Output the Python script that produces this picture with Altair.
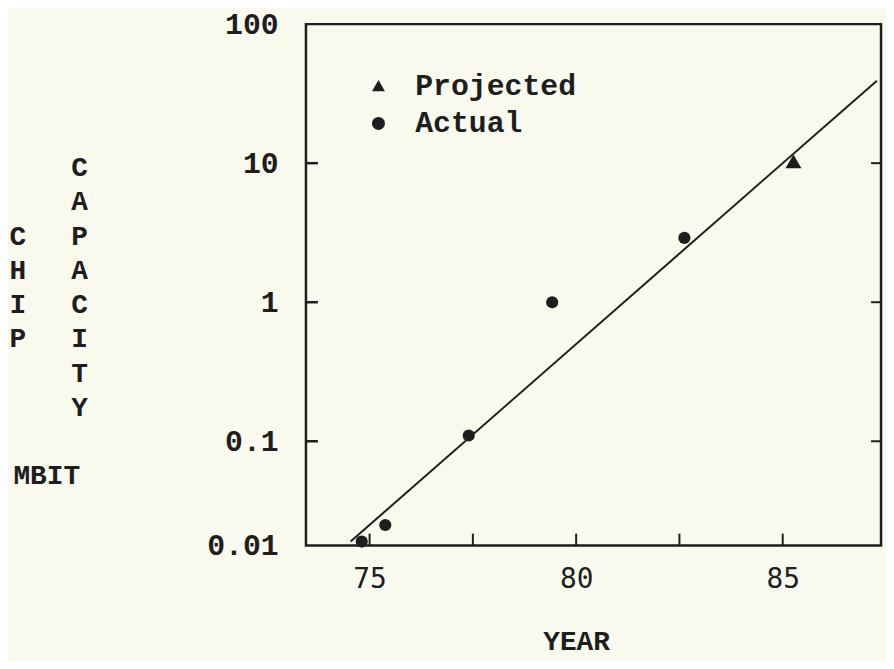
import altair as alt
import pandas as pd

# ---- data ----
ACTUAL_YEAR = [74.81, 75.38, 77.40, 79.42, 82.62]
ACTUAL_MBIT = [0.019, 0.025, 0.11, 1.0, 2.9]
PROJ_YEAR = [85.26]
PROJ_MBIT = [10.3]
TREND_YEAR = [74.54, 87.28]
TREND_MBIT = [0.019, 39.2]
SERIES = ["Projected", "Actual"]
X_LABEL_VALUES = [75, 80, 85]
X_TICK_VALUES = [75, 77.5, 80, 82.5, 85]
Y_TICK_VALUES = [0.01778, 0.1, 1, 10, 100]
Y_TICK_LABELS = ["0.01", "0.1", "1", "10", "100"]
Y_INNER_TICKS = [0.1, 1, 10]
X_DOMAIN = [73.46, 87.38]
Y_DOMAIN = [0.01778, 100]
Y_TITLE_WORDS = ["CHIP", "CAPACITY"]
Y_UNIT = "MBIT"
X_TITLE = "YEAR"

W, H = 579, 525
INK = "#1e1e1e"
BG = "#F9F9EE"
SERIF_MONO = "Liberation Mono"
SANS_MONO = "DejaVu Sans Mono"

# label expression built from the tick lists
expr = "''"
for v, lab in zip(reversed(Y_TICK_VALUES), reversed(Y_TICK_LABELS)):
    expr = f"abs(datum.value - {v}) < {v} * 0.05 ? '{lab}' : ({expr})"

points = pd.DataFrame({
    "year": ACTUAL_YEAR + PROJ_YEAR,
    "mbit": ACTUAL_MBIT + PROJ_MBIT,
    "series": ["Actual"] * len(ACTUAL_YEAR) + ["Projected"] * len(PROJ_YEAR),
})
trend = pd.DataFrame({"year": TREND_YEAR, "mbit": TREND_MBIT})
ytick_df = pd.DataFrame({"mbit": Y_INNER_TICKS})
xtick_df = pd.DataFrame({"year": X_TICK_VALUES})

X = alt.X(
    "year:Q",
    scale=alt.Scale(domain=X_DOMAIN, nice=False, zero=False),
    axis=alt.Axis(
        values=X_LABEL_VALUES, ticks=False, domain=False, grid=False,
        labelFont=SANS_MONO, labelFontSize=28, labelColor=INK,
        labelPadding=20, labelFlush=False, labelOverlap=False, format="d",
        title=X_TITLE, titleFont=SERIF_MONO, titleFontSize=28,
        titleFontWeight="bold", titleColor=INK, titleX=272, titleY=97,
        titleAlign="center", titleBaseline="middle",
    ),
)
Y = alt.Y(
    "mbit:Q",
    scale=alt.Scale(type="log", domain=Y_DOMAIN, nice=False),
    axis=alt.Axis(
        values=Y_TICK_VALUES, labelExpr=expr, ticks=False, domain=False,
        grid=False, labelFont=SERIF_MONO, labelFontSize=30,
        labelFontWeight="bold", labelColor=INK, labelPadding=28,
        labelFlush=False, labelOverlap=False, labelBaseline="middle",
        title=None,
    ),
)

line = alt.Chart(trend).mark_line(color=INK, strokeWidth=2).encode(x=X, y=Y)

pts = alt.Chart(points).mark_point(filled=True, color=INK, opacity=1).encode(
    x=X, y=Y,
    shape=alt.Shape(
        "series:N",
        scale=alt.Scale(domain=SERIES, range=["triangle-up", "circle"]),
        legend=alt.Legend(
            orient="none", legendX=58, legendY=47, title=None, padding=0,
            labelFont=SERIF_MONO, labelFontSize=30, labelFontWeight="bold",
            labelColor=INK, labelLimit=0, symbolSize=170, symbolFillColor=INK,
            symbolStrokeColor=INK, symbolStrokeWidth=0, labelOffset=22,
            rowPadding=8,
        ),
    ),
    size=alt.condition(alt.datum.series == SERIES[0], alt.value(260), alt.value(150)),
)

left_ticks = alt.Chart(ytick_df).mark_rule(color=INK, strokeWidth=2.5).encode(
    y=Y, x=alt.value(0), x2=alt.value(12))
right_ticks = alt.Chart(ytick_df).mark_rule(color=INK, strokeWidth=2).encode(
    y=Y, x=alt.value(W - 10), x2=alt.value(W))
bottom_ticks = alt.Chart(xtick_df).mark_rule(color=INK, strokeWidth=2).encode(
    x=X, y=alt.value(H - 12), y2=alt.value(H))

chip = alt.Chart(pd.DataFrame({"t": ["\n".join(Y_TITLE_WORDS[0])]})).mark_text(
    font=SERIF_MONO, fontSize=28, fontWeight="bold", color=INK,
    lineBreak="\n", lineHeight=34.5, baseline="middle", align="center",
).encode(text="t:N", x=alt.value(-290), y=alt.value(214))
capacity = alt.Chart(pd.DataFrame({"t": ["\n".join(Y_TITLE_WORDS[1])]})).mark_text(
    font=SERIF_MONO, fontSize=28, fontWeight="bold", color=INK,
    lineBreak="\n", lineHeight=34.5, baseline="middle", align="center",
).encode(text="t:N", x=alt.value(-228), y=alt.value(145))
mbit = alt.Chart(pd.DataFrame({"t": [Y_UNIT]})).mark_text(
    font=SERIF_MONO, fontSize=28, fontWeight="bold", color=INK,
    baseline="middle", align="center",
).encode(text="t:N", x=alt.value(-261), y=alt.value(455))

chart = alt.layer(
    line, left_ticks, right_ticks, bottom_ticks, pts, chip, capacity, mbit
).properties(
    width=W, height=H, background=BG,
    padding={"left": 300, "top": 14, "right": 5, "bottom": 114},
    autosize=alt.AutoSizeParams(type="none"),
).configure_view(stroke=INK, strokeWidth=2.5)

chart.save("out.html", embed_options={"renderer": "svg", "actions": False})
